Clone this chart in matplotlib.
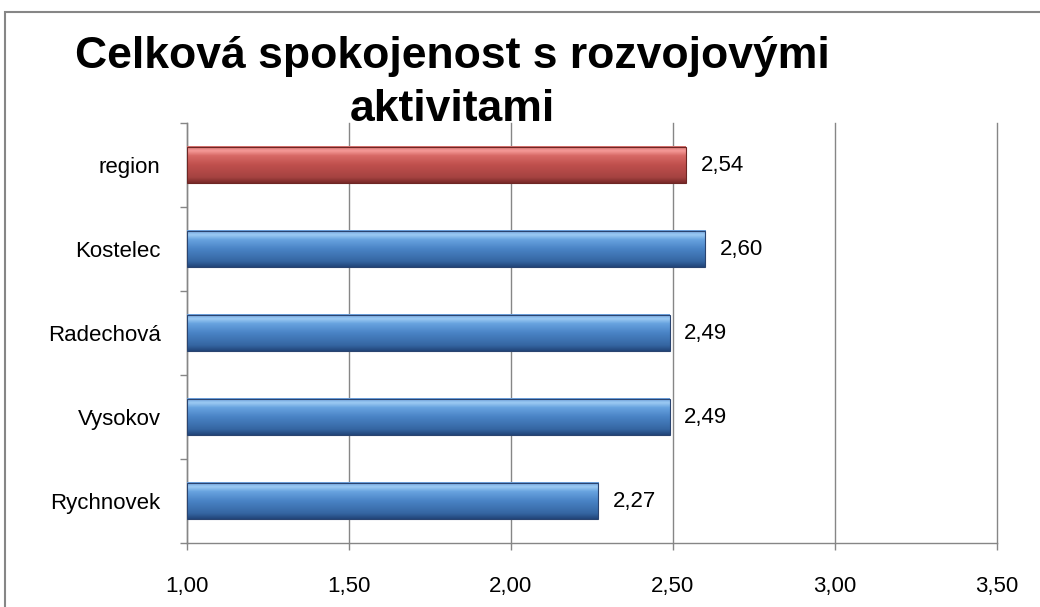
import matplotlib.pyplot as plt
import numpy as np
from matplotlib.colors import LinearSegmentedColormap
from matplotlib.patches import Rectangle

categories = ['region', 'Kostelec', 'Radechová', 'Vysokov', 'Rychnovek']
values = [2.54, 2.60, 2.49, 2.49, 2.27]
bar_colors = ['red', 'blue', 'blue', 'blue', 'blue']
x_ticks = [1.0, 1.5, 2.0, 2.5, 3.0, 3.5]

plt.rcParams['font.family'] = ['Liberation Sans', 'DejaVu Sans']

# gradients to fake the Excel bevel look (bottom -> top)
cmaps = {
    'blue': LinearSegmentedColormap.from_list('b', [(0, '#22467a'), (0.15, '#3566a2'), (0.5, '#4a84c6'),
                                                   (0.75, '#68a3e0'), (0.88, '#9ccaf3'), (1, '#6a9fdb')]),
    'red': LinearSegmentedColormap.from_list('r', [(0, '#7a2a29'), (0.15, '#a54341'), (0.5, '#c0504d'),
                                                  (0.75, '#d86a67'), (0.88, '#f59a98'), (1, '#d4706d')]),
}
edge = {'blue': '#2a4470', 'red': '#6e2624'}

fig = plt.figure(figsize=(10.4, 6.07), dpi=100)
ax = fig.add_axes([187 / 1040, 64 / 607, 810 / 1040, 420 / 607])
ax.set_xlim(1.0, 3.5)
xmin = ax.get_xlim()[0]

ypos = np.arange(len(categories))
bars = ax.barh(ypos, values, height=0.43, color='none', edgecolor='none')

grad = np.linspace(1, 0, 64).reshape(-1, 1)
for rect, c in zip(bars, bar_colors):
    x0 = max(rect.get_x(), xmin)
    x1 = rect.get_x() + rect.get_width()
    y0, h = rect.get_y(), rect.get_height()
    ax.imshow(grad, cmap=cmaps[c], aspect='auto', origin='upper',
              extent=(x0, x1, y0 + h, y0), zorder=3)
    ax.add_patch(Rectangle((x0, y0), x1 - x0, h, fill=False, edgecolor=edge[c],
                           linewidth=0.8, zorder=4))

for y, v in zip(ypos, values):
    ax.text(v + 0.045, y, f'{v:.2f}'.replace('.', ','), va='center', ha='left', fontsize=16, zorder=5)

ax.set_xlim(1.0, 3.5)
ax.set_ylim(len(categories) - 0.5, -0.5)
ax.set_xticks(x_ticks)
ax.set_xticklabels([f'{t:.2f}'.replace('.', ',') for t in x_ticks], fontsize=16)
ax.set_yticks(ypos)
ax.set_yticklabels(categories, fontsize=16)
ax.set_yticks(np.arange(-0.5, len(categories), 1), minor=True)
ax.tick_params(axis='y', which='major', length=0, pad=19)
ax.tick_params(axis='y', which='minor', length=5, color='#868686', width=1)
ax.tick_params(axis='x', length=5, color='#868686', width=1, pad=19)
ax.grid(axis='x', color='#868686', linewidth=1, zorder=0)
for line in ax.get_xgridlines():
    line.set_clip_on(False)
ax.set_axisbelow(True)
for s in ['top', 'right']:
    ax.spines[s].set_visible(False)
for s in ['left', 'bottom']:
    ax.spines[s].set_color('#868686')
    ax.spines[s].set_linewidth(1)

fig.text(452 / 1040, 1 - 83 / 607, 'Celková spokojenost s rozvojovými\naktivitami', ha='center', va='center',
         fontsize=32, fontweight='bold', linespacing=1.38)

fig.patches.append(Rectangle((5 / 1040, -0.1), 1.1, 1.1 - 12 / 607, transform=fig.transFigure,
                             fill=False, edgecolor='#868686', linewidth=1.5))

plt.savefig('out.png', dpi=100, facecolor='white')
